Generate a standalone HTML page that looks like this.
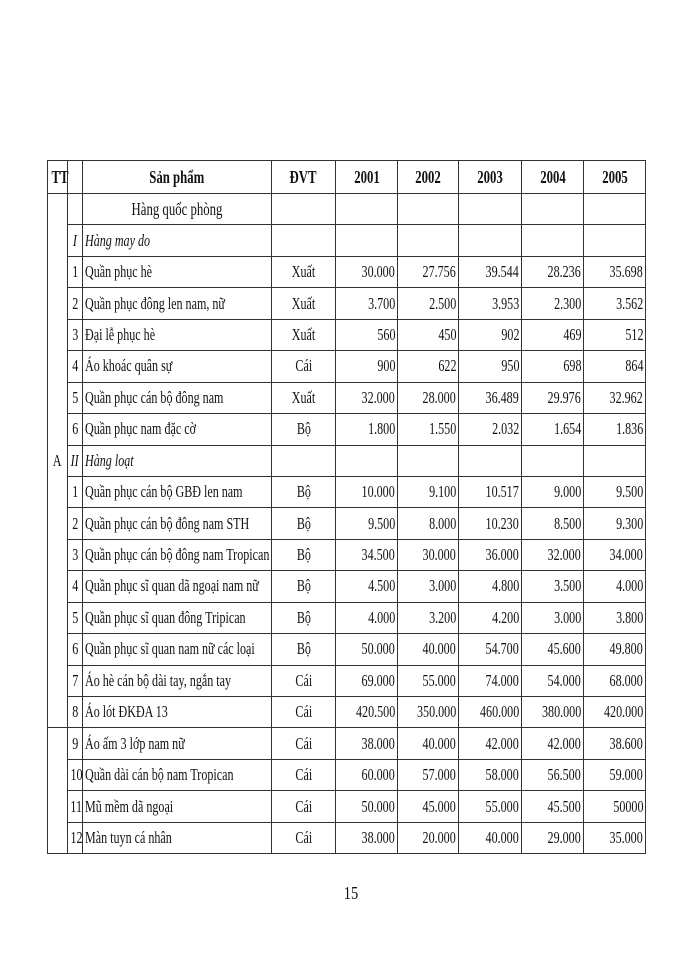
<!DOCTYPE html>
<html><head><meta charset="utf-8"><style>
body{margin:0;background:#fff;width:700px;height:960px;position:relative;font-family:"Liberation Serif",serif;color:#111}
table{position:absolute;left:47px;top:160px;border-collapse:collapse;table-layout:fixed;width:599px}
td{border:1px solid #333;padding:0;font-size:17px;white-space:nowrap;overflow:visible;height:31.45px;box-sizing:border-box}
td span{display:inline-block;transform:scaleX(0.71)}
.l span{transform-origin:left center}
.r{text-align:right;padding-right:2px}
.r span{transform-origin:right center}
.c{text-align:center}
.c span{transform-origin:center}
.l{padding-left:2px}
.h td{font-weight:bold;height:33px;font-size:18px}
.big{font-size:18px}
i{font-style:italic}
.pg{position:absolute;left:342px;top:883px;font-size:18px;transform:scaleX(0.8)}
</style></head><body>
<table>
<colgroup><col style="width:20px"><col style="width:15px"><col style="width:189px"><col style="width:64px"><col style="width:62px"><col style="width:61px"><col style="width:63px"><col style="width:62px"><col style="width:62px"></colgroup>
<tr class="h"><td class="c"><span>TT</span></td><td></td><td class="c"><span>Sản phẩm</span></td><td class="c"><span>ĐVT</span></td><td class="c"><span>2001</span></td><td class="c"><span>2002</span></td><td class="c"><span>2003</span></td><td class="c"><span>2004</span></td><td class="c"><span>2005</span></td></tr>
<tr><td rowspan="17" class="c"><span>A</span></td><td></td><td class="c big"><span>Hàng quốc phòng</span></td><td></td><td></td><td></td><td></td><td></td><td></td></tr>
<tr><td class="c"><span><i>I</i></span></td><td class="l"><span><i>Hàng may do</i></span></td><td></td><td></td><td></td><td></td><td></td><td></td></tr>
<tr><td class="c"><span>1</span></td><td class="l"><span>Quần phục hè</span></td><td class="c"><span>Xuất</span></td><td class="r"><span>30.000</span></td><td class="r"><span>27.756</span></td><td class="r"><span>39.544</span></td><td class="r"><span>28.236</span></td><td class="r"><span>35.698</span></td></tr>
<tr><td class="c"><span>2</span></td><td class="l"><span>Quần phục đông len nam, nữ</span></td><td class="c"><span>Xuất</span></td><td class="r"><span>3.700</span></td><td class="r"><span>2.500</span></td><td class="r"><span>3.953</span></td><td class="r"><span>2.300</span></td><td class="r"><span>3.562</span></td></tr>
<tr><td class="c"><span>3</span></td><td class="l"><span>Đại lễ phục hè</span></td><td class="c"><span>Xuất</span></td><td class="r"><span>560</span></td><td class="r"><span>450</span></td><td class="r"><span>902</span></td><td class="r"><span>469</span></td><td class="r"><span>512</span></td></tr>
<tr><td class="c"><span>4</span></td><td class="l"><span>Áo khoác quân sự</span></td><td class="c"><span>Cái</span></td><td class="r"><span>900</span></td><td class="r"><span>622</span></td><td class="r"><span>950</span></td><td class="r"><span>698</span></td><td class="r"><span>864</span></td></tr>
<tr><td class="c"><span>5</span></td><td class="l"><span>Quần phục cán bộ đông nam</span></td><td class="c"><span>Xuất</span></td><td class="r"><span>32.000</span></td><td class="r"><span>28.000</span></td><td class="r"><span>36.489</span></td><td class="r"><span>29.976</span></td><td class="r"><span>32.962</span></td></tr>
<tr><td class="c"><span>6</span></td><td class="l"><span>Quần phục nam đặc cờ</span></td><td class="c"><span>Bộ</span></td><td class="r"><span>1.800</span></td><td class="r"><span>1.550</span></td><td class="r"><span>2.032</span></td><td class="r"><span>1.654</span></td><td class="r"><span>1.836</span></td></tr>
<tr><td class="c"><span><i>II</i></span></td><td class="l"><span><i>Hàng loạt</i></span></td><td></td><td></td><td></td><td></td><td></td><td></td></tr>
<tr><td class="c"><span>1</span></td><td class="l"><span>Quần phục cán bộ GBĐ len nam</span></td><td class="c"><span>Bộ</span></td><td class="r"><span>10.000</span></td><td class="r"><span>9.100</span></td><td class="r"><span>10.517</span></td><td class="r"><span>9.000</span></td><td class="r"><span>9.500</span></td></tr>
<tr><td class="c"><span>2</span></td><td class="l"><span>Quần phục cán bộ đông nam STH</span></td><td class="c"><span>Bộ</span></td><td class="r"><span>9.500</span></td><td class="r"><span>8.000</span></td><td class="r"><span>10.230</span></td><td class="r"><span>8.500</span></td><td class="r"><span>9.300</span></td></tr>
<tr><td class="c"><span>3</span></td><td class="l"><span>Quần phục cán bộ đông nam Tropican</span></td><td class="c"><span>Bộ</span></td><td class="r"><span>34.500</span></td><td class="r"><span>30.000</span></td><td class="r"><span>36.000</span></td><td class="r"><span>32.000</span></td><td class="r"><span>34.000</span></td></tr>
<tr><td class="c"><span>4</span></td><td class="l"><span>Quần phục sĩ quan dã ngoại nam nữ</span></td><td class="c"><span>Bộ</span></td><td class="r"><span>4.500</span></td><td class="r"><span>3.000</span></td><td class="r"><span>4.800</span></td><td class="r"><span>3.500</span></td><td class="r"><span>4.000</span></td></tr>
<tr><td class="c"><span>5</span></td><td class="l"><span>Quần phục sĩ quan đông Tripican</span></td><td class="c"><span>Bộ</span></td><td class="r"><span>4.000</span></td><td class="r"><span>3.200</span></td><td class="r"><span>4.200</span></td><td class="r"><span>3.000</span></td><td class="r"><span>3.800</span></td></tr>
<tr><td class="c"><span>6</span></td><td class="l"><span>Quần phục sĩ quan nam nữ các loại</span></td><td class="c"><span>Bộ</span></td><td class="r"><span>50.000</span></td><td class="r"><span>40.000</span></td><td class="r"><span>54.700</span></td><td class="r"><span>45.600</span></td><td class="r"><span>49.800</span></td></tr>
<tr><td class="c"><span>7</span></td><td class="l"><span>Áo hè cán bộ dài tay, ngắn tay</span></td><td class="c"><span>Cái</span></td><td class="r"><span>69.000</span></td><td class="r"><span>55.000</span></td><td class="r"><span>74.000</span></td><td class="r"><span>54.000</span></td><td class="r"><span>68.000</span></td></tr>
<tr><td class="c"><span>8</span></td><td class="l"><span>Áo lót ĐKĐA 13</span></td><td class="c"><span>Cái</span></td><td class="r"><span>420.500</span></td><td class="r"><span>350.000</span></td><td class="r"><span>460.000</span></td><td class="r"><span>380.000</span></td><td class="r"><span>420.000</span></td></tr>
<tr><td rowspan="4"></td><td class="c"><span>9</span></td><td class="l"><span>Áo ấm 3 lớp nam nữ</span></td><td class="c"><span>Cái</span></td><td class="r"><span>38.000</span></td><td class="r"><span>40.000</span></td><td class="r"><span>42.000</span></td><td class="r"><span>42.000</span></td><td class="r"><span>38.600</span></td></tr>
<tr><td class="c"><span>10</span></td><td class="l"><span>Quần dài cán bộ nam Tropican</span></td><td class="c"><span>Cái</span></td><td class="r"><span>60.000</span></td><td class="r"><span>57.000</span></td><td class="r"><span>58.000</span></td><td class="r"><span>56.500</span></td><td class="r"><span>59.000</span></td></tr>
<tr><td class="c"><span>11</span></td><td class="l"><span>Mũ mềm dã ngoại</span></td><td class="c"><span>Cái</span></td><td class="r"><span>50.000</span></td><td class="r"><span>45.000</span></td><td class="r"><span>55.000</span></td><td class="r"><span>45.500</span></td><td class="r"><span>50000</span></td></tr>
<tr><td class="c"><span>12</span></td><td class="l"><span>Màn tuyn cá nhân</span></td><td class="c"><span>Cái</span></td><td class="r"><span>38.000</span></td><td class="r"><span>20.000</span></td><td class="r"><span>40.000</span></td><td class="r"><span>29.000</span></td><td class="r"><span>35.000</span></td></tr>
</table>
<div class="pg">15</div>
</body></html>
